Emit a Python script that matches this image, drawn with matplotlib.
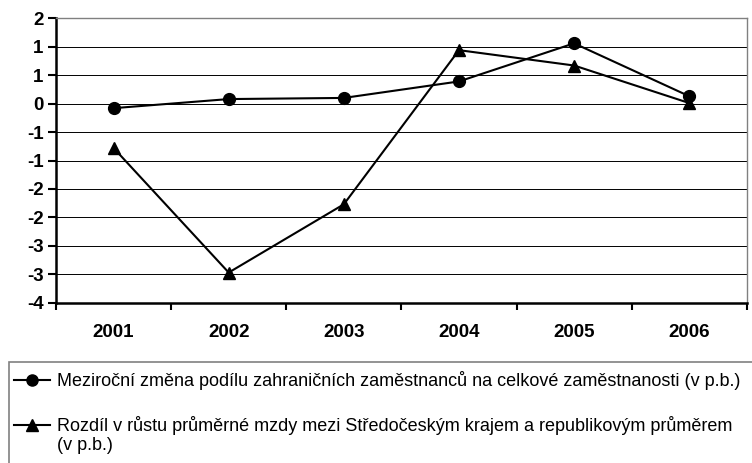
import numpy as np
import matplotlib
matplotlib.use("Agg")
import matplotlib.pyplot as plt
from matplotlib.lines import Line2D
from matplotlib.patches import Rectangle
from matplotlib.ticker import FuncFormatter, MultipleLocator, FixedLocator

years = ["2001", "2002", "2003", "2004", "2005", "2006"]
foreign_share_change = [-0.08, 0.08, 0.10, 0.39, 1.06, 0.13]
wage_growth_gap = [-0.78, -2.97, -1.77, 0.94, 0.67, 0.01]

label_share = "Meziroční změna podílu zahraničních zaměstnanců na celkové zaměstnanosti (v p.b.)"
label_wage = "Rozdíl v růstu průměrné mzdy mezi Středočeským krajem a republikovým průměrem\n(v p.b.)"

tick_font = ["Liberation Sans", "DejaVu Sans"]
legend_font = ["Liberation Sans", "DejaVu Sans"]


def excel_round(v, pos=None):
    # Excel "0" number format rounds half away from zero
    r = int(np.sign(v) * np.floor(abs(v) + 0.5 + 1e-9))
    return str(r)


fig = plt.figure(figsize=(7.52, 4.63), dpi=100)
ax = fig.add_axes([56 / 752, 1 - 302.7 / 463, (746.8 - 56) / 752, (302.7 - 18.3) / 463])

x = np.arange(len(years))
ax.plot(x, foreign_share_change, color="black", lw=1.5, marker="o", ms=8.5, zorder=3)
ax.plot(x, wage_growth_gap, color="black", lw=1.5, marker="^", ms=8.5, zorder=3)

ax.set_xlim(-0.5, len(years) - 0.5)
ax.set_ylim(-3.5, 1.5)
ax.yaxis.set_major_locator(MultipleLocator(0.5))
ax.yaxis.set_major_formatter(FuncFormatter(excel_round))
ax.yaxis.grid(True, color="black", lw=0.7)
ax.set_axisbelow(True)

ax.set_xticks(x)
ax.set_xticklabels(years)
ax.xaxis.set_minor_locator(FixedLocator(np.arange(-0.5, len(years), 1.0)))
ax.tick_params(axis="x", which="major", length=0, pad=15)
ax.tick_params(axis="x", which="minor", length=5, width=1.5, direction="out")
ax.tick_params(axis="y", length=6, width=1.5, direction="out", pad=3)

for lab in ax.get_xticklabels() + ax.get_yticklabels():
    lab.set_fontfamily(tick_font)
    lab.set_fontweight("bold")
    lab.set_fontsize(13.5)

ax.spines["left"].set_linewidth(1.8)
ax.spines["bottom"].set_linewidth(1.8)
ax.spines["top"].set_color("#808080")
ax.spines["right"].set_color("#808080")
ax.spines["top"].set_linewidth(1.0)
ax.spines["right"].set_linewidth(1.0)

# legend box drawn by hand so it runs off the right and bottom edges like the original
fig.patches.append(Rectangle((9 / 752, -0.05), 1.0, 1 - 362 / 463 + 0.05,
                             transform=fig.transFigure, fill=False,
                             edgecolor="#808080", lw=1.2))

entries = [("o", label_share, 380), ("^", label_wage, 425)]
for marker, text, ypix in entries:
    yf = 1 - ypix / 463
    fig.lines.append(Line2D([14 / 752, 50 / 752], [yf, yf], transform=fig.transFigure,
                            color="black", lw=1.5))
    fig.lines.append(Line2D([32 / 752], [yf], transform=fig.transFigure,
                            color="black", marker=marker, ms=8))
    fig.text(57 / 752, yf + 9 / 463, text, family=legend_font, fontsize=13,
             va="top", ha="left", linespacing=1.15)

fig.savefig("out.png", dpi=100)
